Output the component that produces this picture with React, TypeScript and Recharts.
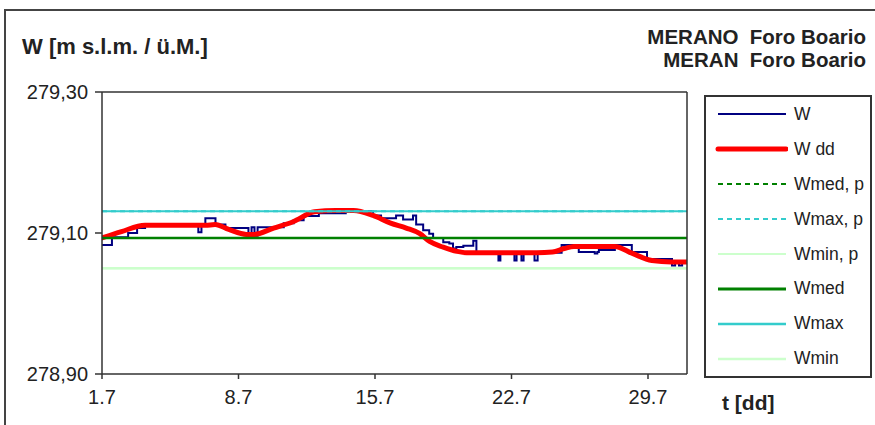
import React from 'react'
import { LineChart, Line, XAxis, YAxis, Legend, ReferenceLine } from 'recharts'

// day of July (1 = 1.7) and water level W [m s.l.m.]
const wDays = [
  1, 1.51, 2.34, 2.8, 3.21, 5.94, 6.1, 6.3, 6.82, 7.33, 8.51, 8.67, 8.82, 8.98, 10.32, 10.83,
  11.34, 12.12, 13.5, 14.9, 15.31, 16.08, 16.44, 16.95, 17.11, 17.47, 17.78, 17.98, 18.5, 18.81,
  19.0, 19.17, 19.53, 20.04, 20.2, 21.33, 21.43, 22.15, 22.26, 22.51, 22.62, 23.18, 23.34, 24.57,
  25.45, 26.27, 26.4, 26.48, 27.3, 28.17, 28.95, 30.23, 30.39, 30.59, 30.75, 31,
]
const wVals = [
  279.083, 279.094, 279.1, 279.107, 279.111, 279.101, 279.111, 279.121, 279.112, 279.107, 279.097,
  279.108, 279.096, 279.108, 279.114, 279.118, 279.124, 279.128, 279.131, 279.125, 279.121, 279.125,
  279.119, 279.125, 279.112, 279.104, 279.099, 279.093, 279.087, 279.085, 279.078, 279.08, 279.082,
  279.089, 279.072, 279.061, 279.072, 279.061, 279.072, 279.061, 279.072, 279.061, 279.072, 279.083,
  279.073, 279.071, 279.073, 279.076, 279.083, 279.073, 279.063, 279.054, 279.06, 279.054, 279.06,
  279.06,
]

// daily mean W dd
const wddDays = [
  1, 2, 3.2, 4.5, 6.3, 6.8, 7.5, 8.4, 8.8, 9.8, 10.8, 11.9, 13, 13.9, 14.9, 15.8, 16.6, 17.3,
  17.8, 18.5, 19.2, 19.7, 21, 23.3, 24.1, 24.7, 25.2, 26.3, 27.3, 28.2, 29.2, 30.2, 31,
]
const wddVals = [
  279.093, 279.102, 279.111, 279.111, 279.111, 279.112, 279.105, 279.098, 279.098, 279.107, 279.116,
  279.13, 279.132, 279.132, 279.125, 279.114, 279.107, 279.099, 279.088, 279.08, 279.074, 279.072,
  279.072, 279.072, 279.073, 279.078, 279.081, 279.081, 279.081, 279.071, 279.061, 279.059, 279.059,
]

const wMed = 279.093
const wMax = 279.131
const wMin = 279.05

const xRange = [1, 31]
const xTicks = [1, 8, 15, 22, 29]
const yRange = [278.9, 279.3]
const yTicks = [278.9, 279.1, 279.3]

const legendItems = [
  { name: 'W', color: '#000080', width: 2, dash: undefined },
  { name: 'W dd', color: '#ff0000', width: 5, dash: undefined },
  { name: 'Wmed, p', color: '#008000', width: 2, dash: '5 4' },
  { name: 'Wmax, p', color: '#33cccc', width: 2, dash: '5 4' },
  { name: 'Wmin, p', color: '#ccffcc', width: 2, dash: undefined },
  { name: 'Wmed', color: '#008000', width: 3, dash: undefined },
  { name: 'Wmax', color: '#33cccc', width: 2.5, dash: undefined },
  { name: 'Wmin', color: '#ccffcc', width: 2.5, dash: undefined },
]

const wData = wDays.map((d, i) => ({ d, v: wVals[i] }))
const wddData = wddDays.map((d, i) => ({ d, v: wddVals[i] }))
const flat = (v: number) => xRange.map((d) => ({ d, v }))

const font = '"Liberation Sans", Arial, sans-serif'
const axisColor = '#333'

function LegendBox() {
  return (
    <div
      style={{
        width: 168,
        height: 283,
        border: '2px solid #333',
        boxSizing: 'border-box',
        background: '#fff',
        fontFamily: font,
      }}
    >
      {legendItems.map((it) => (
        <div key={it.name} style={{ height: 34.9, display: 'flex', alignItems: 'center' }}>
          <svg width={82} height={10} style={{ flex: 'none' }}>
            <line
              x1={12}
              x2={80}
              y1={5}
              y2={5}
              stroke={it.color}
              strokeWidth={it.width}
              strokeDasharray={it.dash}
              strokeLinecap={it.width > 3 ? 'round' : 'butt'}
            />
          </svg>
          <span style={{ marginLeft: 6, fontSize: 17.5, color: '#222' }}>{it.name}</span>
        </div>
      ))}
    </div>
  )
}

export default function App() {
  return (
    <div
      style={{
        position: 'fixed',
        left: 0,
        top: 0,
        width: 875,
        height: 425,
        background: '#fff',
        overflow: 'hidden',
        fontFamily: font,
        color: '#222',
      }}
    >
      <div
        style={{
          position: 'absolute',
          left: 4,
          top: 9,
          width: 900,
          height: 440,
          border: '2px solid #444',
          boxSizing: 'border-box',
        }}
      />
      <div style={{ position: 'absolute', left: 22, top: 34, fontSize: 22, fontWeight: 'bold' }}>
        W [m s.l.m. / ü.M.]
      </div>
      <div
        style={{
          position: 'absolute',
          right: 9,
          top: 25,
          fontSize: 20.5,
          fontWeight: 'bold',
          textAlign: 'right',
          lineHeight: '23px',
          whiteSpace: 'pre',
        }}
      >
        {'MERANO  Foro Boario\nMERAN  Foro Boario'}
      </div>
      <div style={{ position: 'absolute', left: 722, top: 391, fontSize: 21, fontWeight: 'bold' }}>
        t [dd]
      </div>
      <div style={{ position: 'absolute', left: 0, top: 0 }}>
        <LineChart width={875} height={425} margin={{ top: 92, right: 188, bottom: 21, left: 0 }}>
          <XAxis
            dataKey="d"
            type="number"
            domain={xRange}
            ticks={xTicks}
            allowDataOverflow
            tickFormatter={(d: number) => `${d}.7`}
            height={30}
            tickSize={5}
            tickMargin={11}
            stroke={axisColor}
            strokeWidth={1.5}
            tick={{ fill: '#222', fontSize: 20, fontFamily: font }}
          />
          <YAxis
            type="number"
            domain={yRange}
            ticks={yTicks}
            allowDataOverflow
            width={102}
            tickSize={7}
            tickMargin={7}
            tickFormatter={(v: number) => v.toFixed(2).replace('.', ',')}
            stroke={axisColor}
            strokeWidth={1.5}
            tick={{ fill: '#222', fontSize: 20, fontFamily: font }}
          />
          <Legend
            layout="horizontal"
            verticalAlign="middle"
            align="center"
            content={() => <LegendBox />}
            wrapperStyle={{ position: 'absolute', left: 704, top: 95, width: 168, height: 283 }}
          />
          <Line
            data={wData}
            dataKey="v"
            name="W"
            type="stepAfter"
            stroke="#000080"
            strokeWidth={2}
            dot={false}
            isAnimationActive={false}
          />
          <Line
            data={wddData}
            dataKey="v"
            name="W dd"
            type="monotone"
            stroke="#ff0000"
            strokeWidth={5}
            strokeLinecap="round"
            dot={false}
            isAnimationActive={false}
          />
          <Line data={flat(wMed)} dataKey="v" name="Wmed, p" stroke="#008000" strokeWidth={2} strokeDasharray="5 4" dot={false} isAnimationActive={false} />
          <Line data={flat(wMax)} dataKey="v" name="Wmax, p" stroke="#33cccc" strokeWidth={2} strokeDasharray="5 4" dot={false} isAnimationActive={false} />
          <Line data={flat(wMin)} dataKey="v" name="Wmin, p" stroke="#ccffcc" strokeWidth={2} dot={false} isAnimationActive={false} />
          <Line data={flat(wMed)} dataKey="v" name="Wmed" stroke="#008000" strokeWidth={2.5} dot={false} isAnimationActive={false} />
          <Line data={flat(wMax)} dataKey="v" name="Wmax" stroke="#33cccc" strokeWidth={2} dot={false} isAnimationActive={false} />
          <Line data={flat(wMin)} dataKey="v" name="Wmin" stroke="#ccffcc" strokeWidth={2.5} dot={false} isAnimationActive={false} />
          <ReferenceLine y={yRange[1]} stroke={axisColor} strokeWidth={1.5} />
          <ReferenceLine x={xRange[1]} stroke={axisColor} strokeWidth={1.5} />
        </LineChart>
      </div>
    </div>
  )
}
